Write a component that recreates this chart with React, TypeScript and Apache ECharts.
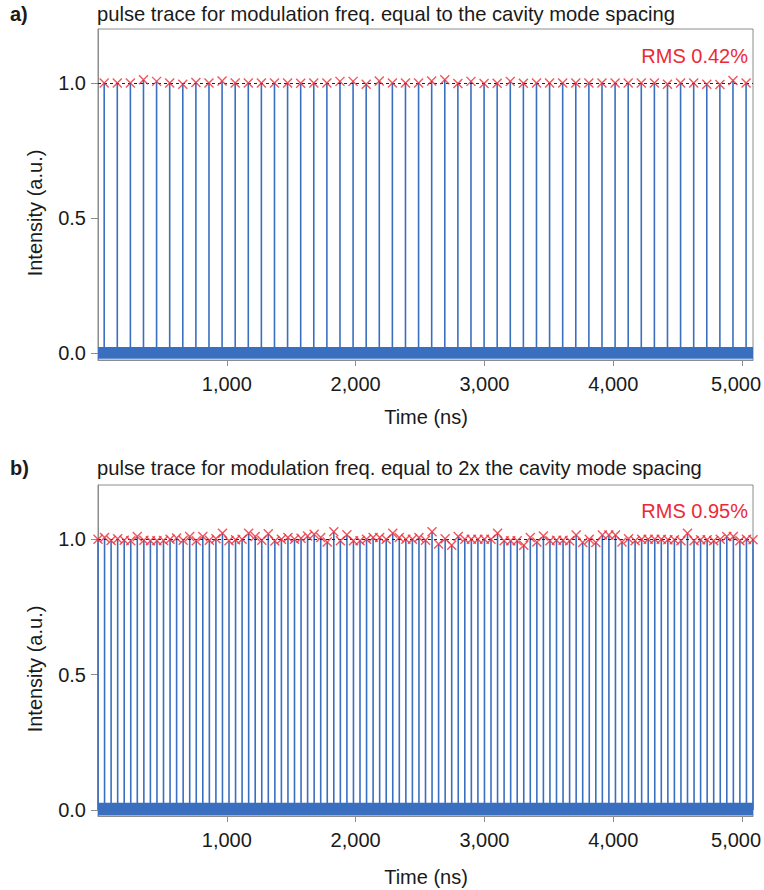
import React, { useEffect, useRef } from "react";
import * as echarts from "echarts";

// ---- data ----
const X_TICKS = [1000, 2000, 3000, 4000, 5000];
const Y_TICKS = [0, 0.5, 1.0];
const X_RANGE = [0, 5085];
const Y_RANGE_A = [-0.026, 1.2];
const Y_RANGE_B = [-0.022, 1.2];
const REFERENCE_LEVEL = 1.0;

const TITLE_A = "pulse trace for modulation freq. equal to the cavity mode spacing";
const TITLE_B = "pulse trace for modulation freq. equal to 2x the cavity mode spacing";
const PANEL_A = "a)";
const PANEL_B = "b)";
const RMS_A = "RMS 0.42%";
const RMS_B = "RMS 0.95%";
const X_NAME = "Time (ns)";
const Y_NAME = "Intensity (a.u.)";

// pulse arrival times (ns) and peak intensities, panel a
const PULSE_TIMES_A = [
  48, 149.7, 251.4, 353.1, 454.8, 556.5, 658.2, 759.9, 861.6, 963.3,
  1065, 1166.7, 1268.4, 1370.1, 1471.8, 1573.5, 1675.2, 1776.9, 1878.6, 1980.3,
  2082, 2183.7, 2285.4, 2387.1, 2488.8, 2590.5, 2692.2, 2793.9, 2895.6, 2997.3,
  3099, 3200.7, 3302.4, 3404.1, 3505.8, 3607.5, 3709.2, 3810.9, 3912.6, 4014.3,
  4116, 4217.7, 4319.4, 4421.1, 4522.8, 4624.5, 4726.2, 4827.9, 4929.6, 5031.3,
];
const PULSE_PEAKS_A = [
  1.0, 1.0, 1.0, 1.012, 1.006, 1.0, 0.995, 1.002, 1.0, 1.007,
  1.0, 1.0, 1.0, 1.0, 1.0, 0.999, 1.0, 1.0, 1.006, 1.006,
  0.995, 1.007, 1.0, 1.0, 1.0, 1.007, 1.012, 0.998, 1.006, 0.998,
  0.999, 1.006, 0.999, 1.0, 1.0, 1.0, 1.0, 1.0, 1.0, 1.0,
  1.0, 1.0, 1.0, 0.995, 1.0, 1.0, 0.995, 0.994, 1.009, 1.0,
];

// pulse arrival times (ns) and peak intensities, panel b
const PULSE_TIMES_B = [
  0, 50.9, 101.7, 152.6, 203.4, 254.3, 305.1, 356.0, 406.8, 457.7,
  508.5, 559.4, 610.2, 661.1, 711.9, 762.8, 813.6, 864.5, 915.3, 966.2,
  1017.0, 1067.9, 1118.7, 1169.6, 1220.4, 1271.3, 1322.1, 1373.0, 1423.8, 1474.7,
  1525.5, 1576.4, 1627.2, 1678.1, 1728.9, 1779.8, 1830.6, 1881.5, 1932.3, 1983.2,
  2034.0, 2084.9, 2135.7, 2186.6, 2237.4, 2288.3, 2339.1, 2390.0, 2440.8, 2491.7,
  2542.5, 2593.4, 2644.2, 2695.1, 2745.9, 2796.8, 2847.6, 2898.5, 2949.3, 3000.2,
  3051.0, 3101.9, 3152.7, 3203.6, 3254.4, 3305.3, 3356.1, 3407.0, 3457.8, 3508.7,
  3559.5, 3610.4, 3661.2, 3712.1, 3762.9, 3813.8, 3864.6, 3915.5, 3966.3, 4017.2,
  4068.0, 4118.9, 4169.7, 4220.6, 4271.4, 4322.3, 4373.1, 4424.0, 4474.8, 4525.7,
  4576.5, 4627.4, 4678.2, 4729.1, 4779.9, 4830.8, 4881.6, 4932.5, 4983.3, 5034.2,
  5085.0,
];
const PULSE_PEAKS_B = [
  1.0, 1.006, 0.995, 1.002, 0.996, 0.994, 1.01, 0.996, 0.994, 0.994,
  0.995, 1.0, 1.004, 0.996, 1.01, 0.994, 1.01, 0.996, 1.002, 1.022,
  0.994, 0.998, 1.0, 1.022, 1.01, 0.996, 1.02, 0.993, 1.0, 1.006,
  1.0, 1.003, 1.012, 1.018, 1.006, 0.99, 1.027, 0.994, 1.016, 0.994,
  0.994, 1.0, 1.006, 1.006, 1.0, 1.022, 1.006, 1.0, 1.0, 1.006,
  0.996, 1.027, 0.982, 1.002, 0.978, 1.01, 1.0, 1.0, 1.0, 1.0,
  1.0, 1.022, 0.994, 0.994, 0.994, 0.978, 1.006, 0.99, 1.012, 0.994,
  0.996, 0.996, 0.994, 1.015, 0.988, 1.0, 0.988, 1.015, 1.015, 1.015,
  0.99, 1.002, 0.994, 1.0, 1.0, 1.0, 1.0, 0.998, 0.998, 0.994,
  1.022, 0.994, 0.998, 0.998, 0.994, 1.0, 1.01, 1.01, 0.994, 1.0,
  0.998,
];

// baseline noise band (min, max intensity)
const NOISE_BAND_A = [-0.021, 0.022];
const NOISE_BAND_B = [-0.019, 0.027];

const FONT = "'Liberation Sans', Arial, Helvetica, sans-serif";
const BLUE = "#3a6fc0";
const RED = "#ec2a36";
const FRAME = "#8c8c8c";
const TEXT = "#1a1a1a";

function zip(t: number[], v: number[]) {
  const n = Math.min(t.length, v.length);
  const out: number[][] = [];
  for (let i = 0; i < n; i++) out.push([t[i], v[i]]);
  return out;
}

export default function App() {
  const ref = useRef<HTMLDivElement>(null);

  useEffect(() => {
    if (!ref.current) return;
    const chart = echarts.init(ref.current, null, { renderer: "svg" });

    const grids = [
      { left: 98, top: 29, width: 655, height: 331 },
      { left: 98, top: 485, width: 655, height: 331 },
    ].map((g) => ({
      ...g,
      show: true,
      borderColor: FRAME,
      borderWidth: 1,
      backgroundColor: "transparent",
      containLabel: false,
      outerBoundsMode: "none",
    }));

    const lastTick = X_TICKS[X_TICKS.length - 1];
    const xAxis = [0, 1].map((i) => ({
      type: "value",
      gridIndex: i,
      min: X_RANGE[0],
      max: X_RANGE[1],
      axisLine: { show: true, onZero: false, lineStyle: { color: FRAME, width: 1 } },
      axisTick: { show: true, length: 6, customValues: X_TICKS, lineStyle: { color: FRAME, width: 1 } },
      axisLabel: {
        customValues: X_TICKS,
        formatter: (v: number) => {
          const s = v.toLocaleString("en-US");
          return v === lastTick ? `{edge|${s}}` : s;
        },
        rich: {
          edge: { fontSize: 20, fontFamily: FONT, color: TEXT, padding: [0, 12, 0, 0] },
        },
        fontSize: 20,
        fontFamily: FONT,
        color: TEXT,
        margin: 14,
      },
      splitLine: { show: false },
    }));

    const yRanges = [Y_RANGE_A, Y_RANGE_B];
    const yAxis = [0, 1].map((i) => ({
      type: "value",
      gridIndex: i,
      min: yRanges[i][0],
      max: yRanges[i][1],
      axisLine: { show: true, onZero: false, lineStyle: { color: FRAME, width: 1 } },
      axisTick: { show: true, length: 7, customValues: Y_TICKS, lineStyle: { color: FRAME, width: 1 } },
      axisLabel: {
        customValues: Y_TICKS,
        formatter: (v: number) => v.toFixed(1),
        fontSize: 20,
        fontFamily: FONT,
        color: TEXT,
        margin: 12,
      },
      splitLine: { show: false },
    }));

    const panels = [
      { times: PULSE_TIMES_A, peaks: PULSE_PEAKS_A, band: NOISE_BAND_A },
      { times: PULSE_TIMES_B, peaks: PULSE_PEAKS_B, band: NOISE_BAND_B },
    ];

    const series: any[] = [];
    panels.forEach((p, i) => {
      const data = zip(p.times, p.peaks);
      series.push({
        type: "bar",
        xAxisIndex: i,
        yAxisIndex: i,
        data,
        barWidth: 1.6,
        itemStyle: { color: BLUE },
        z: 2,
        silent: true,
        markArea: {
          silent: true,
          itemStyle: { color: BLUE, opacity: 1 },
          data: [[{ xAxis: X_RANGE[0], yAxis: p.band[0] }, { xAxis: X_RANGE[1], yAxis: p.band[1] }]],
        },
      });
      series.push({
        type: "scatter",
        xAxisIndex: i,
        yAxisIndex: i,
        data,
        symbol: "path://M0,0L9,9M9,0L0,9",
        symbolSize: 9,
        itemStyle: { color: "rgba(0,0,0,0)", borderColor: RED, borderWidth: 1.4 },
        z: 4,
        silent: true,
        markLine: {
          silent: true,
          symbol: "none",
          label: { show: false },
          lineStyle: { color: "#222", type: [3, 3], width: 1 },
          data: [{ yAxis: REFERENCE_LEVEL }],
          z: 3,
        },
      });
    });

    const txt = (text: string, x: number, y: number, extra: any = {}) => ({
      type: "text",
      x,
      y,
      rotation: extra.rotation || 0,
      style: {
        text,
        fontSize: extra.fontSize || 20,
        fontFamily: FONT,
        fill: extra.fill || TEXT,
        fontWeight: extra.fontWeight || "normal",
        textAlign: extra.align || "left",
        textVerticalAlign: "middle",
        verticalAlign: "middle",
      },
      z: 10,
    });

    const graphic = [
      txt(PANEL_A, 10, 14, { fontWeight: "bold" }),
      txt(TITLE_A, 97, 14, { fontSize: 20.2 }),
      txt(RMS_A, 748, 56, { align: "right", fill: RED }),
      txt(Y_NAME, 35, 213, { align: "center", rotation: Math.PI / 2 }),
      txt(X_NAME, 426, 417, { align: "center" }),
      txt(PANEL_B, 10, 468, { fontWeight: "bold" }),
      txt(TITLE_B, 97, 468, { fontSize: 20.2 }),
      txt(RMS_B, 748, 511, { align: "right", fill: RED }),
      txt(Y_NAME, 35, 669, { align: "center", rotation: Math.PI / 2 }),
      txt(X_NAME, 426, 877, { align: "center" }),
    ];

    chart.setOption({
      animation: false,
      backgroundColor: "#ffffff",
      grid: grids,
      xAxis,
      yAxis,
      series,
      graphic,
    });

    return () => chart.dispose();
  }, []);

  return (
    <div
      ref={ref}
      style={{ position: "absolute", left: 0, top: 0, width: 764, height: 890 }}
    />
  );
}
